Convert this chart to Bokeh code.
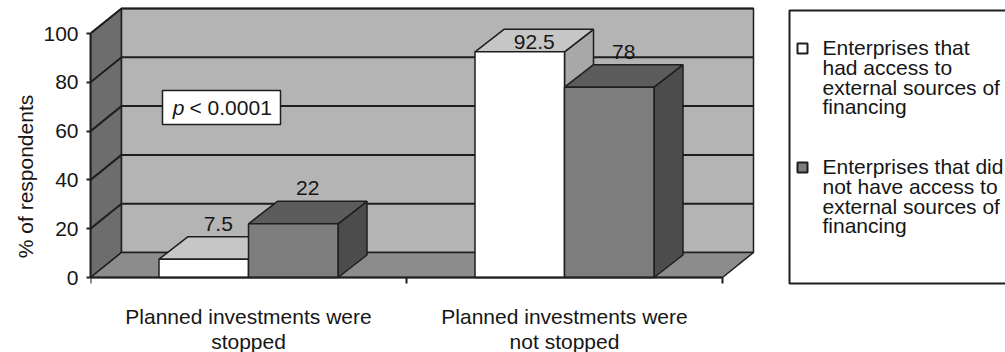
from bokeh.plotting import figure
from bokeh.models import Range1d, FixedTicker, LinearAxis
from bokeh.core.properties import value
from bokeh.embed import file_html
from bokeh.resources import INLINE

# ---------------- data ----------------
categories = ["Planned investments were\nstopped", "Planned investments were\nnot stopped"]
series_names = ["Enterprises that\nhad access to\nexternal sources of\nfinancing",
                "Enterprises that did\nnot have access to\nexternal sources of\nfinancing"]
had_access = [7.5, 92.5]
no_access = [22, 78]
y_ticks = [0, 20, 40, 60, 80, 100]
y_title = "% of respondents"
p_label = "p"
p_text = "< 0.0001"

# ---------------- geometry helpers ----------------
W, H = 1005, 352
LEFT = 90
Y0 = 277          # pixel row of value 0
PX_X = 316.0      # pixels per category
PX_Y = 2.44       # pixels per percent


def px2x(px):
    return (px - LEFT) / PX_X


def px2y(py):
    return (Y0 - py) / PX_Y


FONT = "Liberation Sans"
FS = "21px"
TXT = "#161616"
EDGE = "#1e1e1e"

wdx, wdy = 31 / PX_X, 25 / PX_Y     # wall depth
bdx, bdy = 29 / PX_X, 22.5 / PX_Y   # bar depth
bw = 89.5 / PX_X                    # bar width
n_cat = len(categories)

p = figure(width=W, height=H,
           x_range=Range1d(0, (W - LEFT) / PX_X),
           y_range=Range1d(px2y(H), px2y(0)),
           output_backend="svg", toolbar_location=None,
           min_border_left=LEFT, min_border_right=0, min_border_top=0,
           min_border_bottom=0, outline_line_color=None,
           background_fill_color="white", border_fill_color="white")
p.xgrid.visible = False
p.ygrid.visible = False

# ---------------- walls & floor ----------------
p.patch([0, wdx, wdx, 0], [0, wdy, 100 + wdy, 100],
        fill_color="#6d6d6d", line_color=EDGE, line_width=1.5)
p.patch([wdx, n_cat + wdx, n_cat + wdx, wdx], [wdy, wdy, 100 + wdy, 100 + wdy],
        fill_color="#b4b4b4", line_color=EDGE, line_width=1.5)
p.patch([0, wdx, n_cat + wdx, n_cat], [0, wdy, wdy, 0],
        fill_color="#8c8c8c", line_color=EDGE, line_width=1.5)
grid_vals = [t for t in y_ticks if 0 < t <= 100]
for t in grid_vals:
    p.line([0, wdx, n_cat + wdx], [t, t + wdy, t + wdy], line_color=EDGE, line_width=2)

# ---------------- bars ----------------
series = [
    (had_access, "#ffffff", "#c6c6c6", "#a8a8a8"),
    (no_access, "#7e7e7e", "#5c5c5c", "#4c4c4c"),
]
lab_x, lab_y, lab_t = [], [], []
for ci in range(n_cat):
    for si, (vals, c_front, c_top, c_side) in enumerate(series):
        v = vals[ci]
        x0 = ci + 0.5 - bw + si * bw
        x1 = x0 + bw
        p.patch([x1, x1 + bdx, x1 + bdx, x1], [0, bdy, v + bdy, v],
                fill_color=c_side, line_color=EDGE, line_width=1.5)
        p.patch([x0, x1, x1 + bdx, x0 + bdx], [v, v, v + bdy, v + bdy],
                fill_color=c_top, line_color=EDGE, line_width=1.5)
        p.patch([x0, x1, x1, x0], [0, 0, v, v],
                fill_color=c_front, line_color=EDGE, line_width=1.5)
        lab_x.append((x0 + x1) / 2 + bdx / 2)
        lab_y.append(min(v + bdy + 13 / PX_Y, 100 - 8 / PX_Y))
        lab_t.append(f"{v:g}")

p.text(x=lab_x, y=lab_y, text=lab_t, text_align="center", text_baseline="middle",
       text_font=value(FONT), text_font_size=FS, text_color=TXT)

# ---------------- p-value box ----------------
p.quad(left=[px2x(162)], right=[px2x(280)], top=[px2y(90)], bottom=[px2y(124)],
       fill_color="white", line_color=EDGE, line_width=1.5)
p.text(x=[px2x(184)], y=[px2y(107)], text=[p_label], text_align="right",
       text_baseline="middle", text_font=value(FONT), text_font_style="italic",
       text_font_size=FS, text_color=TXT)
p.text(x=[px2x(189)], y=[px2y(107)], text=[p_text], text_align="left",
       text_baseline="middle", text_font=value(FONT),
       text_font_size=FS, text_color=TXT)

# ---------------- legend ----------------
p.quad(left=[px2x(789)], right=[px2x(1010)], top=[px2y(10)], bottom=[px2y(283)],
       fill_color="white", line_color=EDGE, line_width=2)
item_tops = [47, 166]   # pixel row of first text line centre per item
p.scatter(x=[px2x(802)] * 2, y=[px2y(t + 1) for t in item_tops], marker="square",
          size=10, fill_color=[series[0][1], series[1][1]], line_color=EDGE,
          line_width=2)
lx, ly, lt = [], [], []
for name, top in zip(series_names, item_tops):
    for k, line in enumerate(name.split("\n")):
        lx.append(px2x(822))
        ly.append(px2y(top + k * 19.8))
        lt.append(line)
p.text(x=lx, y=ly, text=lt, text_align="left", text_baseline="middle",
       text_font=value(FONT), text_font_size=FS, text_color=TXT)

# ---------------- axes ----------------
ya = p.yaxis[0]
ya.ticker = FixedTicker(ticks=y_ticks)
ya.bounds = (0, 100)
ya.axis_line_width = 2
ya.axis_line_color = EDGE
ya.major_tick_line_width = 2
ya.major_tick_line_color = EDGE
ya.major_tick_out = 4
ya.major_tick_in = 0
ya.minor_tick_line_color = None
ya.major_label_standoff = 8
ya.major_label_text_font = FONT
ya.major_label_text_font_size = FS
ya.major_label_text_color = TXT
ya.axis_label = y_title
ya.axis_label_text_font = FONT
ya.axis_label_text_font_style = "normal"
ya.axis_label_text_font_size = FS
ya.axis_label_text_color = TXT
ya.axis_label_standoff = 3

xa = p.xaxis[0]
xa.fixed_location = 0
xa.ticker = FixedTicker(ticks=list(range(n_cat + 1)))
xa.bounds = (0, n_cat)
xa.axis_line_width = 2
xa.axis_line_color = EDGE
xa.major_tick_line_width = 2
xa.major_tick_line_color = EDGE
xa.major_tick_out = 6
xa.major_tick_in = 0
xa.minor_tick_line_color = None
xa.major_label_overrides = {i: "" for i in range(n_cat + 1)}
xa.major_label_standoff = 0
xa.major_label_text_font_size = "1px"

# category labels: one fixed axis per text line, 25 px apart
cat_lines = [c.split("\n") for c in categories]
n_lines = max(len(c) for c in cat_lines)
for k in range(n_lines):
    xl = LinearAxis(ticker=FixedTicker(ticks=[i + 0.5 for i in range(n_cat)]),
                    major_label_overrides={i + 0.5: (c[k] if k < len(c) else "")
                                           for i, c in enumerate(cat_lines)},
                    fixed_location=0,
                    axis_line_color=None, major_tick_line_color=None,
                    minor_tick_line_color=None, major_tick_out=0, major_tick_in=0,
                    major_label_standoff=27 + 25 * k, major_label_text_font=FONT,
                    major_label_text_font_size=FS, major_label_text_color=TXT)
    p.add_layout(xl, "below")

open("out.html", "w").write(file_html(p, INLINE))
